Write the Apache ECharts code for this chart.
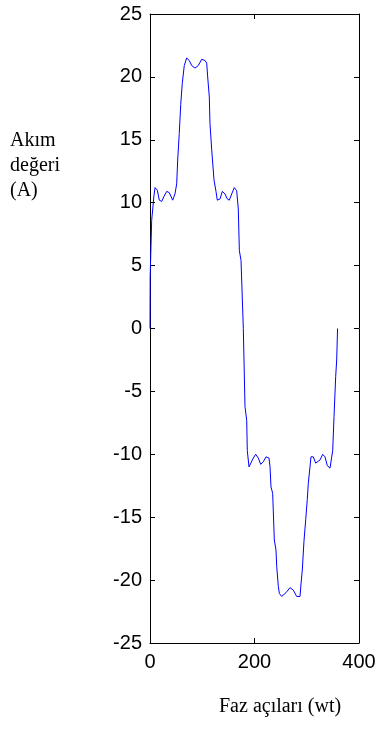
<!DOCTYPE html>
<html>
<head>
<meta charset="utf-8">
<script src="https://cdn.jsdelivr.net/npm/echarts@6/dist/echarts.min.js"></script>
<style>
  html, body { margin: 0; padding: 0; background: #fff; }
  #chart { width: 383px; height: 729px; }
</style>
</head>
<body>
<div id="chart"></div>
<script>
// Phase angle (degrees) of each sample
var phaseAngles = [
  0, 0.3, 3.2, 7.7, 9.6, 14, 17.8, 22.4, 26.8, 32, 36.9, 43.4, 47.8, 51.1, 53,
  56, 58.8, 61.8, 65.6, 70.2, 75.2, 79.8, 86.1, 92.4, 98.9, 105.3, 108.5, 110.4,
  113.5, 114.8, 118.1, 122.5, 126.3, 128.8, 134, 138.4, 143.5, 147.9, 151.8,
  156.4, 161.3, 165.9, 169, 171, 174.2, 178.6, 181.8, 185.1, 186.2, 189.5, 193.3,
  197.7, 202.3, 207.3, 211.9, 216.8, 222, 227.8, 229.7, 231.6, 234.8, 237.9,
  241.1, 242.5, 245.6, 247.5, 252, 260.3, 267.9, 274.3, 280.8, 287.1, 289,
  291.5, 294.7, 298, 301, 303, 306.2, 308.1, 312.5, 317.1, 320.2, 325.4, 330.5,
  334.9, 339.3, 344.5, 347.8, 349.7, 352.2, 355.4, 357.3, 359
];
// Current value (A) at each phase angle
var currentValues = [
  0, 4.1, 8.6, 10.6, 11.2, 11.0, 10.2, 10.1, 10.5, 10.9, 10.8, 10.2, 10.7, 11.5, 13.4,
  15.5, 17.8, 19.5, 20.9, 21.5, 21.3, 20.9, 20.7, 20.9, 21.4, 21.3, 21.1, 20.0,
  18.4, 16.3, 14.2, 11.8, 10.9, 10.2, 10.3, 10.9, 10.7, 10.3, 10.2,
  10.7, 11.2, 10.95, 9.5, 6.2, 5.4, 0, -6.2, -7.3, -9.7, -11.0, -11.0,
  -10.3, -10.0, -10.3, -10.8, -10.6, -10.2, -10.3, -11.0, -12.6, -13.1, -16.8,
  -17.6, -18.9, -20.5, -21.05, -21.3, -21.0, -20.6, -20.8, -21.3, -21.3, -20.3,
  -19.2, -16.9, -15.2, -13.6, -12.3, -11.0, -10.2, -10.2, -10.7, -10.8, -10.45, -10.0,
  -10.2, -10.9, -11.1, -10.2, -9.7, -7.0, -3.8, -2.5, 0
];
// Axis ranges and tick steps
var xTicks = { min: 0, max: 400, step: 200 };
var yTicks = { min: -25, max: 25, step: 5 };
var yTitleLines = ['Akım', 'değeri', '(A)'];
var xTitle = 'Faz açıları (wt)';

var points = phaseAngles.map(function (a, i) { return [a, currentValues[i]]; });

var chart = echarts.init(document.getElementById('chart'), null, { renderer: 'canvas' });

function tickFont(margin) {
  return { show: true, margin: margin, fontFamily: 'Liberation Sans, Arial, sans-serif', fontSize: 20, color: '#000' };
}
function boxLine() {
  return { show: true, onZero: false, lineStyle: { color: '#000', width: 1 } };
}
function innerTick() {
  return { show: true, inside: true, length: 5, lineStyle: { color: '#000', width: 1 } };
}

chart.setOption({
  animation: false,
  backgroundColor: '#fff',
  grid: { left: 150, right: 24, top: 14, bottom: 86, containLabel: false },
  xAxis: [
    {
      type: 'value', position: 'bottom',
      min: xTicks.min, max: xTicks.max, interval: xTicks.step,
      axisLine: boxLine(), axisTick: innerTick(),
      axisLabel: tickFont(9),
      splitLine: { show: false }
    },
    {
      type: 'value', position: 'top',
      min: xTicks.min, max: xTicks.max, interval: xTicks.step,
      axisLine: boxLine(), axisTick: innerTick(),
      axisLabel: { show: false }, splitLine: { show: false }
    }
  ],
  yAxis: [
    {
      type: 'value', position: 'left',
      min: yTicks.min, max: yTicks.max, interval: yTicks.step,
      axisLine: boxLine(), axisTick: innerTick(),
      axisLabel: tickFont(8),
      splitLine: { show: false }
    },
    {
      type: 'value', position: 'right',
      min: yTicks.min, max: yTicks.max, interval: yTicks.step,
      axisLine: boxLine(), axisTick: innerTick(),
      axisLabel: { show: false }, splitLine: { show: false }
    }
  ],
  series: [{
    type: 'line',
    data: points,
    xAxisIndex: 0, yAxisIndex: 0,
    showSymbol: false,
    lineStyle: { color: '#0000ff', width: 1 },
    z: 1
  }],
  graphic: [
    {
      type: 'text', left: 10, top: 128,
      style: {
        text: yTitleLines.join('\n'),
        font: '20px "Liberation Serif", "Times New Roman", serif',
        lineHeight: 25, fill: '#000'
      }
    },
    {
      type: 'text', left: 219, top: 697,
      style: {
        text: xTitle,
        font: '20px "Liberation Serif", "Times New Roman", serif',
        fill: '#000'
      }
    }
  ]
});
</script>
</body>
</html>
